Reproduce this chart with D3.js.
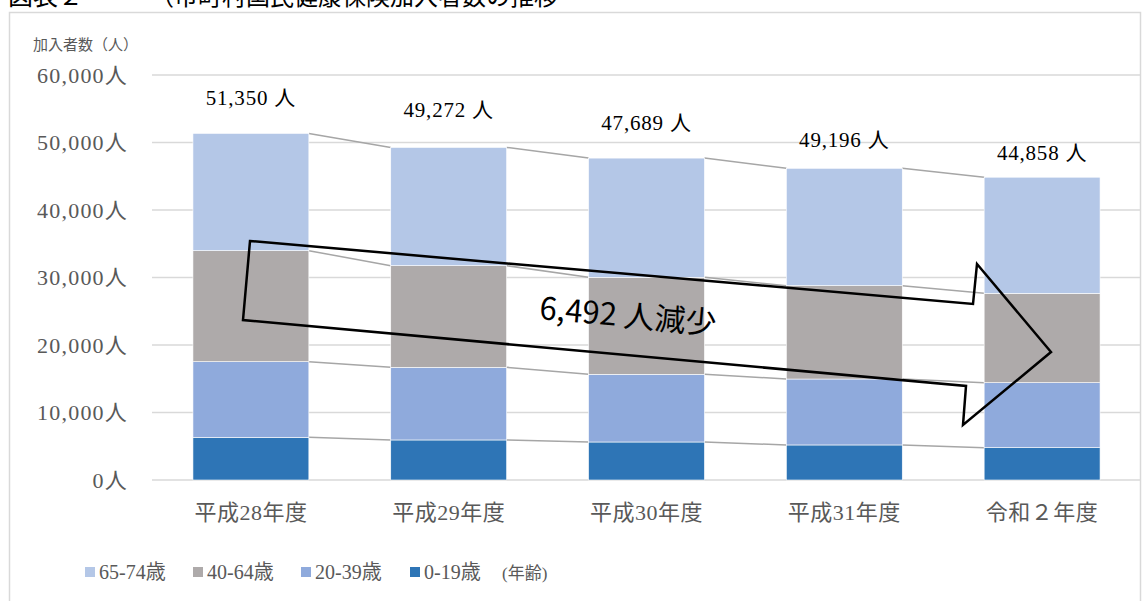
<!DOCTYPE html>
<html>
<head>
<meta charset="utf-8">
<script src="https://cdn.jsdelivr.net/npm/d3@7"></script>
<style>
  body { margin: 0; background: #fff; }
  svg { display: block; }
</style>
</head>
<body>
<div id="chart"></div>
<script>
var width = 1144,
  height = 601;

// data
var years = ['平成28年度', '平成29年度', '平成30年度', '平成31年度', '令和２年度'];
var age0_19 = [6320, 5930, 5630, 5190, 4790];
var age20_39 = [11210, 10760, 10030, 9770, 9630];
var age40_64 = [16440, 15060, 14370, 13830, 13230];
var age65_74 = [17380, 17522, 17659, 17390, 17208];
var totalLabels = [51350, 49272, 47689, 49196, 44858];
var seriesNames = ['0-19歳', '20-39歳', '40-64歳', '65-74歳'];
var yTicks = [0, 10000, 20000, 30000, 40000, 50000, 60000];
var arrowText = '6,492 人減少';

// styles / layout
const colors = ['#2e75b6', '#8faadc', '#aeaaaa', '#b4c7e7'];
const serif = "'Liberation Serif', 'Noto Sans CJK JP', serif";
const sans = "'Noto Sans CJK JP', 'Noto Sans', sans-serif";
const labelDy = [36, 38, 35, 29, 25]; // text boxes were placed by hand in the original

var svg = d3.select('#chart')
  .append('svg')
  .attr('width', width)
  .attr('height', height);

// title (cut off at the top of the picture, as in the original)
svg.append('text')
  .attr('x', 8)
  .attr('y', 5)
  .attr('font-family', sans)
  .attr('font-size', 25)
  .attr('fill', '#000')
  .text('図表２');
svg.append('text')
  .attr('x', 150)
  .attr('y', 5)
  .attr('font-family', sans)
  .attr('font-size', 24)
  .attr('fill', '#000')
  .text('（市町村国民健康保険加入者数の推移');

// chart frame
svg.append('rect')
  .attr('x', 9.5)
  .attr('y', 12.5)
  .attr('width', 1131)
  .attr('height', 600)
  .attr('fill', 'none')
  .attr('stroke', '#d9d9d9')
  .attr('stroke-width', 1.5);

var x = d3.scaleBand()
  .domain(years)
  .range([152, 1141])
  .paddingInner(0.414)
  .paddingOuter(0.207);

var y = d3.scaleLinear()
  .domain([0, 60000])
  .range([480, 75]);

// gridlines
svg.append('g')
  .selectAll('line')
  .data(yTicks)
  .join('line')
  .attr('x1', 152)
  .attr('x2', 1141)
  .attr('y1', d => y(d))
  .attr('y2', d => y(d))
  .attr('stroke', '#d9d9d9')
  .attr('stroke-width', 1.5);

// y tick labels
svg.append('g')
  .selectAll('text')
  .data(yTicks)
  .join('text')
  .attr('x', 128)
  .attr('y', d => y(d))
  .attr('dy', '0.35em')
  .attr('text-anchor', 'end')
  .attr('font-family', serif)
  .attr('font-size', 22)
  .attr('letter-spacing', 1.2)
  .attr('fill', '#595959')
  .text(d => d3.format(',')(d) + '人');

svg.append('text')
  .attr('x', 33)
  .attr('y', 45)
  .attr('dy', '0.35em')
  .attr('font-family', sans)
  .attr('font-size', 15)
  .attr('fill', '#595959')
  .text('加入者数（人）');

// stack
var rows = years.map(function(yr, i) {
  return { year: yr, s0: age0_19[i], s1: age20_39[i], s2: age40_64[i], s3: age65_74[i] };
});
var stack = d3.stack().keys(['s0', 's1', 's2', 's3'])(rows);

// connector lines between bars (top of each segment)
stack.forEach(function(layer) {
  svg.append('g')
    .selectAll('line')
    .data(d3.pairs(layer))
    .join('line')
    .attr('x1', d => x(d[0].data.year) + x.bandwidth())
    .attr('x2', d => x(d[1].data.year))
    .attr('y1', d => y(d[0][1]))
    .attr('y2', d => y(d[1][1]))
    .attr('stroke', '#a6a6a6')
    .attr('stroke-width', 1.5);
});

// bars
svg.append('g')
  .selectAll('g')
  .data(stack)
  .join('g')
  .attr('fill', (d, i) => colors[i])
  .selectAll('rect')
  .data(d => d)
  .join('rect')
  .attr('x', d => x(d.data.year))
  .attr('width', x.bandwidth())
  .attr('y', d => y(d[1]))
  .attr('height', d => y(d[0]) - y(d[1]))
  .attr('stroke', '#fff')
  .attr('stroke-width', 0.6);

// x labels
svg.append('g')
  .selectAll('text')
  .data(years)
  .join('text')
  .attr('x', d => x(d) + x.bandwidth() / 2)
  .attr('y', 512)
  .attr('dy', '0.35em')
  .attr('text-anchor', 'middle')
  .attr('font-family', serif)
  .attr('font-size', 22)
  .attr('letter-spacing', 0.5)
  .attr('fill', '#595959')
  .text(d => d);

// total labels
var tops = stack[3];
svg.append('g')
  .selectAll('text')
  .data(totalLabels)
  .join('text')
  .attr('x', (d, i) => x(years[i]) + x.bandwidth() / 2)
  .attr('y', (d, i) => y(tops[i][1]) - labelDy[i])
  .attr('dy', '0.35em')
  .attr('text-anchor', 'middle')
  .attr('font-family', serif)
  .attr('font-size', 21)
  .attr('letter-spacing', 0.8)
  .attr('fill', '#000')
  .text(d => d3.format(',')(d) + ' 人');

// decrease arrow
var arrowPts = [[250, 241], [973, 304], [977, 264], [1051, 352], [963, 425], [966, 386], [243, 320]];
svg.append('polygon')
  .attr('points', arrowPts.map(p => p.join(',')).join(' '))
  .attr('fill', 'none')
  .attr('stroke', '#000')
  .attr('stroke-width', 2.5)
  .attr('stroke-linejoin', 'miter');

svg.append('text')
  .attr('transform', 'translate(628,316) rotate(5)')
  .attr('text-anchor', 'middle')
  .attr('dy', '0.35em')
  .attr('font-family', sans)
  .attr('font-size', 31)
  .attr('fill', '#000')
  .text(arrowText);

// legend
var legendOrder = [3, 2, 1, 0];
var legendX = [85, 193, 301, 410];
var legend = svg.append('g')
  .selectAll('g')
  .data(legendOrder)
  .join('g')
  .attr('transform', (d, i) => 'translate(' + legendX[i] + ',572)');

legend.append('rect')
  .attr('x', 0)
  .attr('y', -5)
  .attr('width', 10)
  .attr('height', 10)
  .attr('fill', d => colors[d]);

legend.append('text')
  .attr('x', 14)
  .attr('y', 0)
  .attr('dy', '0.35em')
  .attr('font-family', serif)
  .attr('font-size', 20)
  .attr('fill', '#595959')
  .text(d => seriesNames[d]);

svg.append('text')
  .attr('x', 502)
  .attr('y', 573)
  .attr('dy', '0.35em')
  .attr('font-family', serif)
  .attr('font-size', 17)
  .attr('fill', '#595959')
  .text('(年齢)');
</script>
</body>
</html>
